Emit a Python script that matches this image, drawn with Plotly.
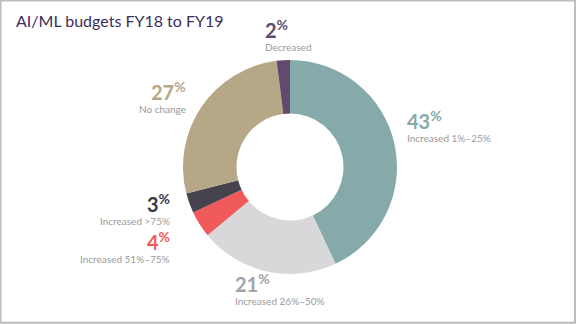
import plotly.graph_objects as go

W, H = 576, 324

categories = ["Increased 1%–25%", "Increased 26%–50%", "Increased 51%–75%",
              "Increased >75%", "No change", "Decreased"]
values = [43, 21, 4, 3, 27, 2]
slice_colors = ["#86AAAA", "#D8D8DA", "#F05A5A", "#46434F", "#B6A886", "#624A6E"]
value_colors = ["#86AAAA", "#A3A3A7", "#F05A5A", "#3B3A47", "#B6A886", "#5E4A6E"]

# label anchor positions in pixels (x, y of value text centre, alignment)
label_pos = [
    (405, 122, "left"),
    (233, 285, "left"),
    (172, 243, "right"),
    (172, 205, "right"),
    (188, 93, "right"),
    (263, 31, "left"),
]

cx, cy, r = 290, 167, 107

fig = go.Figure(go.Pie(
    labels=categories,
    values=values,
    marker=dict(colors=slice_colors, line=dict(width=0)),
    hole=0.5,
    sort=False,
    direction="clockwise",
    rotation=0,
    textinfo="none",
    hoverinfo="label+percent",
    showlegend=False,
    domain=dict(x=[(cx - r) / W, (cx + r) / W], y=[(H - cy - r) / H, (H - cy + r) / H]),
))

font = "Lato, 'Open Sans', sans-serif"
annotations = [dict(
    text="AI/ML budgets FY18 to FY19", x=14 / W, y=1 - 20 / H, xref="paper", yref="paper",
    xanchor="left", yanchor="middle", showarrow=False,
    font=dict(family=font, size=16, color="#3A2F5B"))]

for cat, v, col, (px, py, al) in zip(categories, values, value_colors, label_pos):
    annotations.append(dict(
        text=f"<b>{v}</b><sup><b>%</b></sup>", x=px / W, y=1 - (py - 2) / H,
        xref="paper", yref="paper", xanchor=al, yanchor="middle", showarrow=False,
        font=dict(family=font, size=20, color=col, weight=900)))
    annotations.append(dict(
        text=cat, x=px / W, y=1 - (py + 16) / H,
        xref="paper", yref="paper", xanchor=al, yanchor="middle", showarrow=False,
        font=dict(family=font, size=10, color="#9A9A9A")))

fig.update_layout(
    width=W, height=H,
    margin=dict(l=0, r=0, t=0, b=0),
    paper_bgcolor="white",
    plot_bgcolor="white",
    annotations=annotations,
    shapes=[dict(type="rect", xref="paper", yref="paper",
                 x0=0.5 / W, x1=575 / W, y0=1 - 322.8 / H, y1=1 - 0.5 / H,
                 line=dict(color="#BDBDBD", width=2))],
)

fig.write_html("out.html")
